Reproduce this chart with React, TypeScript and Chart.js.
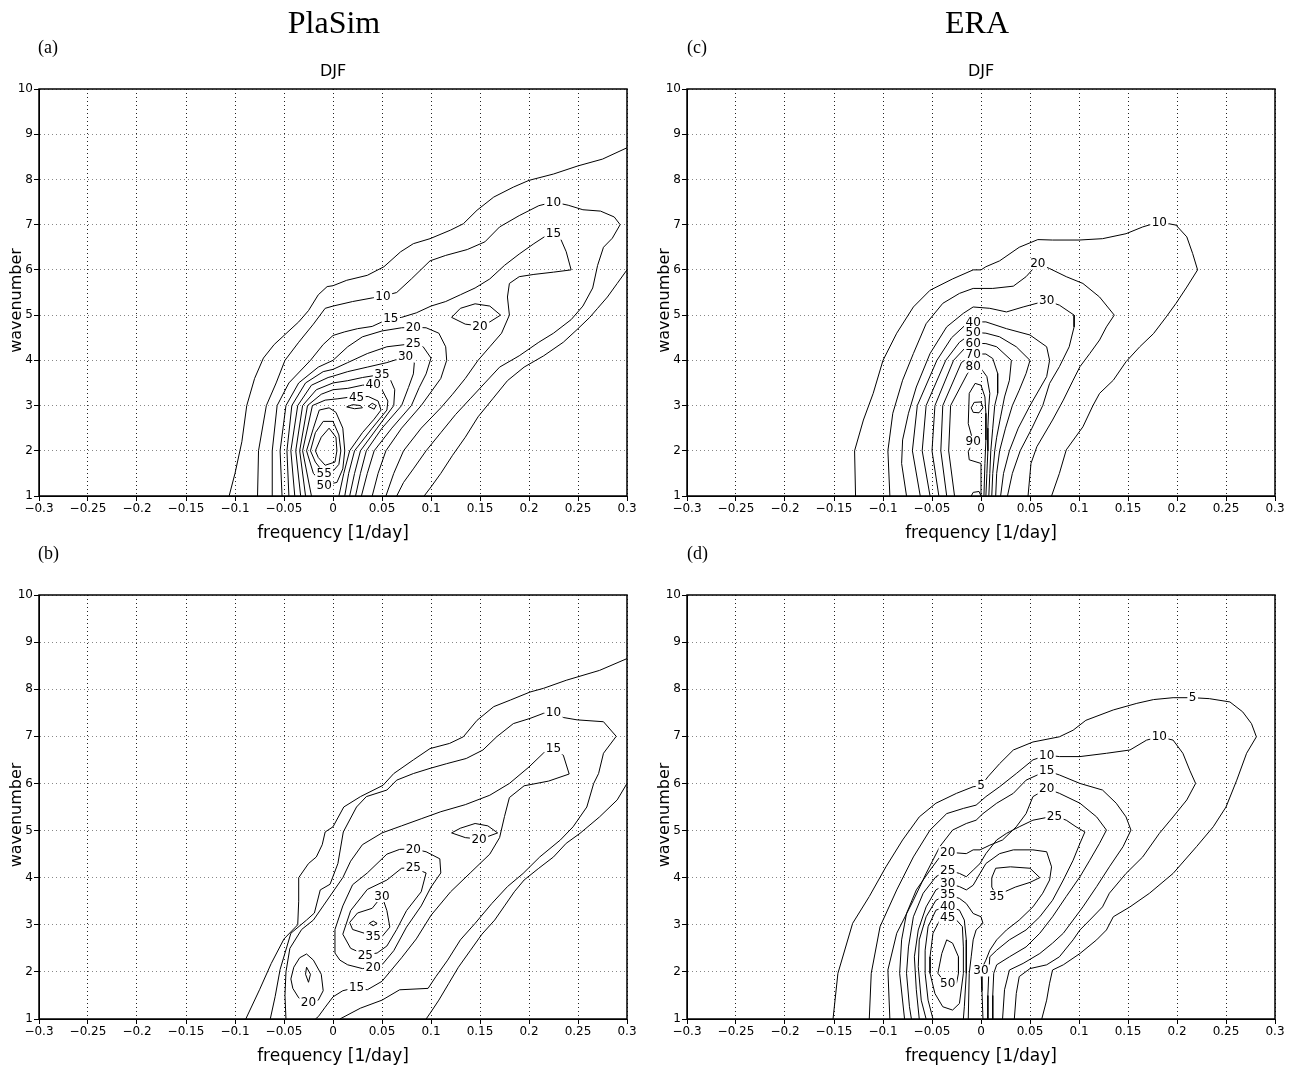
import React, { useEffect, useRef } from "react";
import { Chart, registerables } from "chart.js";
Chart.register(...registerables);

type P = [number, number];
type L = [number, number, string];

const xTicks = [-0.3, -0.25, -0.2, -0.15, -0.1, -0.05, 0, 0.05, 0.1, 0.15, 0.2, 0.25, 0.3];
const yTicks = [1, 2, 3, 4, 5, 6, 7, 8, 9, 10];

// ---------------- Panel (a) PlaSim DJF ----------------
const a05top: P[] = [[-0.106,1],[-0.1,1.5],[-0.093,2.2],[-0.088,3],[-0.08,3.6],[-0.071,4.05],[-0.06,4.35],[-0.05,4.55],[-0.035,4.85],[-0.025,5.1],[-0.015,5.45],[-0.006,5.63],[0,5.65],[0.014,5.77],[0.035,5.88],[0.052,6.07],[0.069,6.4],[0.082,6.58],[0.099,6.69],[0.12,6.88],[0.133,7.02],[0.147,7.32],[0.164,7.61],[0.184,7.83],[0.2,7.98],[0.225,8.12],[0.25,8.3],[0.275,8.45],[0.3,8.7]];
const a05right: P[] = [[0.3,6.0],[0.29,5.7],[0.28,5.4],[0.27,5.15],[0.262,4.95],[0.25,4.7],[0.235,4.4],[0.215,4.1],[0.195,3.85],[0.178,3.55],[0.163,3.15],[0.148,2.75],[0.135,2.3],[0.122,1.9],[0.11,1.5],[0.1,1.2],[0.093,1]];
const a10: P[] = [[-0.077,1],[-0.076,2],[-0.068,3],[-0.058,3.5],[-0.049,4.0],[-0.035,4.4],[-0.02,4.8],[-0.008,5.15],[0,5.2],[0.02,5.3],[0.04,5.38],[0.051,5.42],[0.065,5.5],[0.08,5.8],[0.099,6.2],[0.115,6.32],[0.137,6.45],[0.155,6.62],[0.17,6.95],[0.19,7.2],[0.21,7.42],[0.225,7.5],[0.24,7.43],[0.255,7.33],[0.273,7.3],[0.287,7.17],[0.293,7.0],[0.285,6.7],[0.276,6.5],[0.27,6.1],[0.265,5.6],[0.255,5.2],[0.243,4.9],[0.225,4.6],[0.21,4.4],[0.19,4.1],[0.17,3.85],[0.155,3.5],[0.14,3.15],[0.125,2.8],[0.11,2.4],[0.095,2.0],[0.082,1.6],[0.072,1.3],[0.065,1]];
const a15: P[] = [[-0.062,1],[-0.062,2],[-0.057,3],[-0.045,3.5],[-0.023,4.0],[-0.01,4.35],[0,4.55],[0.012,4.63],[0.025,4.7],[0.04,4.75],[0.05,4.85],[0.059,4.92],[0.07,4.95],[0.085,5.05],[0.1,5.2],[0.115,5.3],[0.13,5.45],[0.145,5.6],[0.16,5.8],[0.175,6.1],[0.19,6.35],[0.205,6.58],[0.217,6.75],[0.225,6.8],[0.232,6.7],[0.238,6.4],[0.243,6.0],[0.225,5.95],[0.205,5.9],[0.19,5.85],[0.18,5.7],[0.178,5.4],[0.18,5.0],[0.172,4.6],[0.16,4.3],[0.148,4.0],[0.135,3.6],[0.122,3.25],[0.11,2.95],[0.09,2.5],[0.072,2.0],[0.062,1.5],[0.054,1]];
const a20: P[] = [[-0.052,1],[-0.054,2],[-0.048,3],[-0.035,3.5],[-0.015,3.85],[0,4.0],[0.015,4.3],[0.03,4.52],[0.05,4.65],[0.07,4.72],[0.082,4.73],[0.095,4.72],[0.108,4.6],[0.115,4.3],[0.116,4.0],[0.11,3.6],[0.1,3.3],[0.09,3.0],[0.07,2.5],[0.054,2.0],[0.046,1.5],[0.04,1]];
const a20loop: P[] = [[0.121,4.95],[0.13,5.15],[0.145,5.25],[0.16,5.2],[0.171,5.0],[0.16,4.85],[0.15,4.76],[0.135,4.8],[0.121,4.95]];
const a25: P[] = [[-0.045,1],[-0.047,2],[-0.042,3],[-0.028,3.5],[-0.01,3.75],[0,3.8],[0.015,3.95],[0.035,4.15],[0.055,4.3],[0.082,4.37],[0.092,4.3],[0.1,4.05],[0.095,3.7],[0.088,3.4],[0.08,3.0],[0.06,2.5],[0.042,2.0],[0.035,1.5],[0.029,1]];
const a30: P[] = [[-0.039,1],[-0.043,2],[-0.036,3],[-0.022,3.45],[-0.005,3.62],[0,3.65],[0.015,3.75],[0.035,3.85],[0.055,3.95],[0.074,4.08],[0.083,3.95],[0.082,3.7],[0.077,3.4],[0.07,3.0],[0.05,2.5],[0.034,2.0],[0.028,1.5],[0.023,1]];
const a35: P[] = [[-0.033,1],[-0.038,2],[-0.031,3],[-0.017,3.35],[0,3.5],[0.015,3.55],[0.03,3.62],[0.05,3.69],[0.058,3.6],[0.063,3.35],[0.062,3.0],[0.045,2.5],[0.028,2.0],[0.022,1.5],[0.017,1]];
const a40: P[] = [[-0.028,1],[-0.034,2],[-0.026,3],[-0.012,3.25],[0,3.35],[0.015,3.38],[0.03,3.45],[0.041,3.47],[0.05,3.35],[0.056,3.1],[0.055,2.9],[0.04,2.5],[0.022,2.0],[0.016,1.5],[0.012,1]];
const a45: P[] = [[-0.022,1],[-0.031,2],[-0.021,3],[-0.008,3.12],[0.005,3.15],[0.015,3.18],[0.024,3.19],[0.036,3.2],[0.046,3.1],[0.049,2.9],[0.042,2.7],[0.03,2.4],[0.017,2.0],[0.011,1.5],[0.006,1]];
const a50: P[] = [[-0.009,1.24],[-0.02,1.5],[-0.027,2],[-0.02,2.5],[-0.014,2.9],[-0.004,2.95],[0.003,2.85],[0.01,2.5],[0.012,2.0],[0.01,1.6],[0.004,1.3],[-0.009,1.24]];
const a50s1: P[] = [[0.014,2.97],[0.02,3.02],[0.028,3.0],[0.03,2.95],[0.022,2.93],[0.014,2.97]];
const a50s2: P[] = [[0.036,2.98],[0.04,3.05],[0.044,3.0],[0.042,2.92],[0.036,2.98]];
const a55: P[] = [[-0.009,1.5],[-0.018,1.75],[-0.023,2.0],[-0.018,2.4],[-0.01,2.65],[0,2.65],[0.006,2.35],[0.008,2.0],[0.006,1.7],[0,1.55],[-0.009,1.5]];
const a60: P[] = [[-0.008,1.68],[-0.015,1.85],[-0.018,2.0],[-0.012,2.3],[-0.004,2.5],[0.003,2.3],[0.004,2.0],[0.002,1.75],[-0.008,1.68]];
const aLabels: L[] = [[0.051,5.42,"10"],[0.059,4.92,"15"],[0.082,4.73,"20"],[0.082,4.37,"25"],[0.074,4.08,"30"],[0.05,3.69,"35"],[0.041,3.47,"40"],[0.024,3.19,"45"],[-0.009,1.5,"55"],[-0.009,1.24,"50"],[0.15,4.76,"20"],[0.225,7.5,"10"],[0.225,6.8,"15"]];

// ---------------- Panel (c) ERA DJF ----------------
const c10: P[] = [[-0.128,1],[-0.129,2],[-0.12,2.68],[-0.11,3.27],[-0.1,4.0],[-0.086,4.6],[-0.069,5.18],[-0.052,5.55],[-0.029,5.8],[-0.008,6.0],[0,6.0],[0.005,6.07],[0.019,6.2],[0.039,6.5],[0.058,6.67],[0.073,6.66],[0.1,6.66],[0.124,6.69],[0.148,6.8],[0.165,6.95],[0.182,7.06],[0.199,6.99],[0.21,6.73],[0.216,6.36],[0.221,6.0],[0.21,5.62],[0.199,5.26],[0.189,4.96],[0.176,4.59],[0.162,4.3],[0.148,3.97],[0.135,3.56],[0.121,3.27],[0.114,2.99],[0.104,2.53],[0.087,2.02],[0.08,1.5],[0.072,1]];
const c20: P[] = [[-0.093,1],[-0.095,2],[-0.09,2.83],[-0.08,3.56],[-0.069,4.15],[-0.056,4.81],[-0.039,5.26],[-0.022,5.48],[-0.008,5.59],[0.012,5.59],[0.033,5.64],[0.046,5.85],[0.058,6.14],[0.07,6.03],[0.087,5.85],[0.104,5.7],[0.121,5.4],[0.136,5.0],[0.128,4.74],[0.121,4.45],[0.111,4.15],[0.101,3.86],[0.094,3.56],[0.084,3.12],[0.073,2.68],[0.057,2.09],[0.051,1.72],[0.048,1]];
const c30: P[] = [[-0.076,1],[-0.081,1.72],[-0.08,2.24],[-0.074,2.83],[-0.066,3.41],[-0.052,4.15],[-0.035,4.74],[-0.018,5.04],[-0.008,5.18],[0.009,5.15],[0.026,5.07],[0.043,5.18],[0.067,5.32],[0.08,5.22],[0.095,5.0],[0.095,4.74],[0.09,4.3],[0.08,3.86],[0.07,3.49],[0.063,3.0],[0.052,2.5],[0.04,2.0],[0.032,1.5],[0.027,1]];
const c40: P[] = [[-0.062,1],[-0.07,2],[-0.065,3],[-0.045,4],[-0.03,4.5],[-0.015,4.8],[-0.008,4.85],[0.005,4.85],[0.026,4.7],[0.05,4.56],[0.067,4.3],[0.07,4.0],[0.067,3.64],[0.058,3.3],[0.05,3.0],[0.038,2.5],[0.029,2.0],[0.023,1.5],[0.02,1]];
const c50: P[] = [[-0.052,1],[-0.06,2],[-0.056,3],[-0.036,4],[-0.022,4.4],[-0.008,4.62],[0.005,4.6],[0.019,4.52],[0.036,4.3],[0.05,4.0],[0.046,3.71],[0.039,3.34],[0.032,3.0],[0.025,2.5],[0.019,2.0],[0.016,1.5],[0.015,1]];
const c60: P[] = [[-0.043,1],[-0.05,2],[-0.047,3],[-0.028,4],[-0.016,4.28],[-0.008,4.38],[0.005,4.37],[0.016,4.3],[0.031,4.0],[0.029,3.56],[0.024,3.19],[0.02,2.75],[0.016,2.3],[0.014,2.0],[0.012,1.5],[0.011,1]];
const c70: P[] = [[-0.035,1],[-0.041,2],[-0.039,3],[-0.02,3.95],[-0.008,4.14],[0.005,4.14],[0.012,4.04],[0.017,3.71],[0.017,3.27],[0.014,3.0],[0.012,2.5],[0.01,2.0],[0.009,1.5],[0.008,1]];
const c80: P[] = [[-0.027,1],[-0.033,2],[-0.031,3],[-0.014,3.7],[-0.008,3.86],[0,3.82],[0.006,3.64],[0.009,3.27],[0.008,3.0],[0.007,2.5],[0.007,2.0],[0.006,1.5],[0.005,1]];
const c90: P[] = [[0.001,1],[0,1.72],[-0.012,1.8],[-0.013,1.98],[-0.008,2.2],[-0.013,2.6],[-0.012,3.27],[-0.006,3.49],[0,3.45],[0.004,3.19],[0.005,2.83],[0.005,2.24],[0.004,1.72],[0.003,1]];
const c100a: P[] = [[-0.01,2.95],[-0.007,3.07],[0,3.08],[0.002,2.95],[-0.002,2.84],[-0.008,2.85],[-0.01,2.95]];
const c100b: P[] = [[-0.01,1],[-0.008,1.08],[-0.002,1.1],[0,1]];
const cLabels: L[] = [[0.182,7.06,"10"],[0.058,6.14,"20"],[0.067,5.32,"30"],[-0.008,4.85,"40"],[-0.008,4.62,"50"],[-0.008,4.38,"60"],[-0.008,4.14,"70"],[-0.008,3.86,"80"],[-0.008,2.2,"90"]];

// ---------------- Panel (b) PlaSim ----------------
const b05top: P[] = [[-0.089,1],[-0.075,1.62],[-0.063,2.18],[-0.05,2.7],[-0.036,3.0],[-0.035,3.5],[-0.035,4.0],[-0.025,4.3],[-0.017,4.44],[-0.011,4.7],[-0.008,4.97],[0,5.08],[0.011,5.5],[0.028,5.72],[0.051,5.96],[0.062,6.21],[0.082,6.5],[0.099,6.74],[0.119,6.85],[0.133,6.99],[0.147,7.34],[0.164,7.63],[0.181,7.77],[0.201,7.94],[0.215,8.02],[0.238,8.19],[0.272,8.4],[0.3,8.65]];
const b05right: P[] = [[0.3,6.0],[0.29,5.65],[0.272,5.29],[0.252,4.94],[0.238,4.73],[0.225,4.44],[0.21,4.2],[0.195,3.95],[0.185,3.7],[0.175,3.4],[0.165,3.1],[0.152,2.8],[0.14,2.45],[0.128,2.1],[0.118,1.75],[0.108,1.4],[0.1,1.15],[0.095,1]];
const b10: P[] = [[-0.064,1],[-0.059,1.48],[-0.054,2.05],[-0.043,2.82],[-0.027,3.1],[-0.019,3.25],[-0.013,3.74],[-0.003,3.86],[0.005,4.3],[0.0105,4.97],[0.024,5.5],[0.034,5.72],[0.055,5.86],[0.065,6.07],[0.082,6.21],[0.099,6.32],[0.116,6.42],[0.136,6.53],[0.153,6.71],[0.167,6.99],[0.184,7.27],[0.201,7.38],[0.215,7.49],[0.225,7.5],[0.235,7.4],[0.249,7.35],[0.276,7.31],[0.289,7.0],[0.276,6.64],[0.271,6.21],[0.266,6.0],[0.259,5.5],[0.245,5.08],[0.232,4.8],[0.211,4.44],[0.194,4.09],[0.178,3.81],[0.162,3.45],[0.145,3.03],[0.13,2.68],[0.117,2.25],[0.105,1.9],[0.097,1.65],[0.068,1.62],[0.05,1.4],[0.028,1.23],[0.007,1]];
const b15: P[] = [[-0.048,1],[-0.049,1.5],[-0.048,2.0],[-0.044,2.5],[-0.032,2.9],[-0.02,3.1],[-0.01,3.4],[0.0,3.7],[0.01,4.0],[0.018,4.35],[0.03,4.7],[0.05,4.95],[0.07,5.1],[0.09,5.25],[0.11,5.4],[0.135,5.55],[0.16,5.75],[0.18,6.0],[0.2,6.35],[0.215,6.65],[0.225,6.74],[0.235,6.6],[0.241,6.2],[0.22,6.05],[0.195,5.95],[0.18,5.7],[0.175,5.3],[0.17,4.85],[0.16,4.5],[0.14,4.1],[0.12,3.7],[0.1,3.2],[0.085,2.7],[0.07,2.3],[0.05,1.8],[0.035,1.62],[0.024,1.67],[0.01,1.6],[0.0,1.47],[-0.008,1.25],[-0.015,1.05],[-0.018,1]];
const b20: P[] = [[0.002,2.4],[0.002,2.9],[0.01,3.4],[0.02,3.85],[0.035,4.1],[0.055,4.5],[0.068,4.6],[0.082,4.61],[0.095,4.55],[0.109,4.4],[0.11,4.1],[0.1,3.8],[0.09,3.4],[0.075,2.95],[0.062,2.45],[0.05,2.15],[0.041,2.1],[0.03,2.07],[0.015,2.15],[0.007,2.25],[0.002,2.4]];
const b20loop: P[] = [[0.121,4.95],[0.13,5.05],[0.145,5.15],[0.158,5.1],[0.168,4.95],[0.155,4.85],[0.149,4.82],[0.135,4.85],[0.121,4.95]];
const b20left: P[] = [[-0.043,1.85],[-0.04,2.1],[-0.034,2.3],[-0.027,2.38],[-0.02,2.25],[-0.012,1.95],[-0.01,1.6],[-0.015,1.4],[-0.025,1.33],[-0.035,1.45],[-0.041,1.65],[-0.043,1.85]];
const b25left: P[] = [[-0.027,2.1],[-0.023,1.95],[-0.025,1.78],[-0.028,1.95],[-0.027,2.1]];
const b25: P[] = [[0.01,2.8],[0.018,3.3],[0.035,3.75],[0.055,3.95],[0.07,4.2],[0.082,4.21],[0.095,4.1],[0.09,3.7],[0.075,3.3],[0.065,2.9],[0.055,2.55],[0.045,2.4],[0.033,2.36],[0.018,2.5],[0.01,2.8]];
const b30: P[] = [[0.017,3.05],[0.025,3.25],[0.04,3.35],[0.05,3.61],[0.055,3.3],[0.058,2.95],[0.05,2.75],[0.035,2.8],[0.02,2.9],[0.017,3.05]];
const b35: P[] = [[0.037,3.03],[0.041,3.08],[0.045,3.03],[0.041,2.98],[0.037,3.03]];
const bLabels: L[] = [[0.225,7.5,"10"],[0.225,6.74,"15"],[0.149,4.82,"20"],[0.082,4.61,"20"],[0.082,4.21,"25"],[0.05,3.61,"30"],[0.041,2.75,"35"],[0.033,2.36,"25"],[0.041,2.1,"20"],[0.024,1.67,"15"],[-0.025,1.35,"20"]];

// ---------------- Panel (d) ERA ----------------
const d05: P[] = [[-0.151,1],[-0.146,1.97],[-0.131,3.03],[-0.114,3.6],[-0.097,4.23],[-0.08,4.8],[-0.063,5.29],[-0.046,5.58],[-0.025,5.79],[-0.008,5.93],[0,5.95],[0.007,6.14],[0.019,6.42],[0.033,6.71],[0.053,6.88],[0.08,6.99],[0.094,7.13],[0.107,7.34],[0.135,7.56],[0.159,7.7],[0.176,7.78],[0.196,7.82],[0.216,7.82],[0.233,7.8],[0.254,7.73],[0.267,7.52],[0.276,7.27],[0.281,6.99],[0.271,6.64],[0.261,6.07],[0.25,5.5],[0.237,5.08],[0.22,4.66],[0.196,4.09],[0.172,3.67],[0.152,3.38],[0.135,3.17],[0.128,2.89],[0.118,2.68],[0.101,2.39],[0.084,2.15],[0.073,2.04],[0.07,1.76],[0.067,1.4],[0.062,1]];
const d10: P[] = [[-0.114,1],[-0.112,1.97],[-0.103,2.96],[-0.086,3.74],[-0.069,4.44],[-0.052,5.01],[-0.035,5.36],[-0.018,5.47],[-0.005,5.54],[0.005,5.72],[0.019,5.93],[0.036,6.21],[0.053,6.5],[0.067,6.6],[0.08,6.57],[0.101,6.57],[0.128,6.64],[0.152,6.71],[0.169,6.92],[0.182,6.99],[0.196,6.92],[0.206,6.64],[0.213,6.28],[0.219,6.0],[0.21,5.65],[0.196,5.29],[0.182,4.94],[0.165,4.44],[0.148,4.09],[0.131,3.67],[0.124,3.38],[0.111,3.1],[0.101,2.89],[0.094,2.68],[0.08,2.32],[0.067,2.15],[0.05,2.07],[0.039,1.9],[0.036,1.54],[0.034,1]];
const d15: P[] = [[-0.093,1],[-0.095,2.04],[-0.086,2.82],[-0.069,3.52],[-0.056,4.09],[-0.042,4.66],[-0.029,5.01],[-0.015,5.15],[-0.005,5.22],[0.002,5.36],[0.016,5.58],[0.033,5.79],[0.046,6.07],[0.067,6.27],[0.08,6.18],[0.101,6.0],[0.124,5.86],[0.138,5.58],[0.148,5.29],[0.153,5.01],[0.145,4.66],[0.131,4.23],[0.118,3.81],[0.104,3.38],[0.094,3.1],[0.084,2.82],[0.073,2.61],[0.06,2.39],[0.043,2.18],[0.029,2.04],[0.024,1.62],[0.022,1]];
const d20: P[] = [[-0.078,1],[-0.083,1.97],[-0.081,2.68],[-0.076,3.24],[-0.066,3.74],[-0.052,4.16],[-0.042,4.44],[-0.034,4.54],[-0.015,4.51],[-0.008,4.59],[-0.001,4.59],[0.009,4.69],[0.022,4.8],[0.036,5.08],[0.046,5.36],[0.053,5.72],[0.067,5.89],[0.08,5.79],[0.101,5.58],[0.118,5.29],[0.128,5.01],[0.121,4.73],[0.111,4.37],[0.101,4.02],[0.087,3.6],[0.073,3.17],[0.06,2.82],[0.046,2.53],[0.029,2.32],[0.016,2.15],[0.013,1.97],[0.012,1.5],[0.012,1]];
const d25: P[] = [[-0.071,1],[-0.073,1.26],[-0.076,1.97],[-0.074,2.53],[-0.069,3.17],[-0.059,3.67],[-0.046,4.02],[-0.034,4.16],[-0.022,4.09],[-0.015,4.02],[-0.008,4.16],[-0.001,4.3],[0.005,4.51],[0.016,4.8],[0.026,4.94],[0.039,5.08],[0.053,5.22],[0.075,5.31],[0.087,5.22],[0.097,5.08],[0.106,4.97],[0.101,4.73],[0.094,4.37],[0.084,3.95],[0.073,3.52],[0.06,3.17],[0.046,2.89],[0.029,2.68],[0.016,2.46],[0.009,2.32],[0.008,2.0],[0.007,1.5],[0.007,1]];
const d30: P[] = [[-0.063,1],[-0.066,1.62],[-0.068,2.32],[-0.064,2.89],[-0.056,3.38],[-0.046,3.74],[-0.034,3.88],[-0.022,3.81],[-0.015,3.74],[-0.008,3.84],[-0.001,4.09],[0.005,4.3],[0.019,4.51],[0.033,4.59],[0.053,4.59],[0.067,4.55],[0.072,4.23],[0.07,3.95],[0.063,3.67],[0.053,3.38],[0.039,3.1],[0.026,2.89],[0.016,2.68],[0.009,2.46],[0.005,2.25],[0.0,2.03],[0.001,1.6],[0.002,1]];
const d35left: P[] = [[-0.056,1],[-0.061,1.4],[-0.064,2.11],[-0.063,2.68],[-0.056,3.17],[-0.046,3.52],[-0.034,3.64],[-0.022,3.56],[-0.015,3.45],[-0.008,3.24],[0,3.17],[0.002,3.03],[-0.005,2.89],[-0.008,2.68],[-0.01,2.32],[-0.012,1.97],[-0.013,1]];
const d35loop: P[] = [[0.011,3.8],[0.011,4.0],[0.015,4.2],[0.03,4.23],[0.05,4.2],[0.06,4.0],[0.05,3.9],[0.035,3.8],[0.022,3.68],[0.016,3.61],[0.011,3.8]];
const d40: P[] = [[-0.049,1],[-0.054,1.4],[-0.057,1.97],[-0.057,2.46],[-0.054,2.96],[-0.046,3.31],[-0.034,3.4],[-0.022,3.31],[-0.017,3.1],[-0.015,2.68],[-0.015,1.97],[-0.017,1.26],[-0.018,1]];
const d45: P[] = [[-0.034,3.15],[-0.042,3.1],[-0.049,2.82],[-0.052,2.32],[-0.052,1.97],[-0.047,1.54],[-0.039,1.26],[-0.029,1.19],[-0.022,1.33],[-0.018,1.97],[-0.018,2.53],[-0.019,2.96],[-0.025,3.1],[-0.034,3.15]];
const d50: P[] = [[-0.035,2.68],[-0.029,2.61],[-0.023,2.32],[-0.023,1.97],[-0.025,1.76],[-0.034,1.7],[-0.044,1.97],[-0.04,2.39],[-0.035,2.68]];
const dLabels: L[] = [[0.216,7.82,"5"],[0.182,6.99,"10"],[0.067,6.6,"10"],[0.067,6.27,"15"],[0,5.95,"5"],[0.067,5.89,"20"],[0.075,5.31,"25"],[-0.034,4.54,"20"],[-0.034,4.16,"25"],[-0.034,3.88,"30"],[-0.034,3.64,"35"],[-0.034,3.4,"40"],[-0.034,3.15,"45"],[0.016,3.61,"35"],[0,2.03,"30"],[-0.034,1.76,"50"]];

interface Spec {
  left: number; top: number; width: number; height: number;
  padTop: number; padRight: number; yW: number; xH: number;
  lines: P[][]; labels: L[];
  header?: string; headerX?: number; tag: string; tagX: number; tagY: number; season?: string;
}

const fmt = (v: number) => {
  const r = Math.round(v * 100) / 100;
  if (r === 0) return "0";
  return (r < 0 ? "\u2212" : "") + String(Math.abs(r));
};

function Panel({ s }: { s: Spec }) {
  const ref = useRef<HTMLCanvasElement>(null);
  useEffect(() => {
    const cv = ref.current!;
    const overlay = {
      id: "overlay",
      afterDatasetsDraw(chart: any) {
        const { ctx, chartArea: ca, scales } = chart;
        ctx.save();
        ctx.beginPath();
        ctx.rect(ca.left, ca.top, ca.right - ca.left, ca.bottom - ca.top);
        ctx.clip();
        ctx.font = '12px "DejaVu Sans"';
        ctx.textAlign = "center";
        ctx.textBaseline = "middle";
        for (const [vx, vy, t] of s.labels) {
          const px = scales.x.getPixelForValue(vx);
          const py = scales.y.getPixelForValue(vy);
          const w = ctx.measureText(t).width;
          ctx.fillStyle = "#fff";
          ctx.fillRect(px - w / 2 - 1.5, py - 6, w + 3, 12);
          ctx.fillStyle = "#000";
          ctx.fillText(t, px, py + 0.5);
        }
        ctx.restore();
        ctx.save();
        ctx.strokeStyle = "#000";
        ctx.lineWidth = 1.5;
        ctx.strokeRect(ca.left, ca.top, ca.right - ca.left, ca.bottom - ca.top);
        ctx.fillStyle = "#000";
        ctx.textAlign = "center";
        ctx.textBaseline = "alphabetic";
        const cx = (ca.left + ca.right) / 2;
        if (s.season) {
          ctx.font = '16px "DejaVu Sans"';
          ctx.fillText(s.season, cx, ca.top - 13);
        }
        ctx.font = '17px "DejaVu Sans"';
        ctx.fillText("frequency [1/day]", cx, ca.bottom + 42);
        ctx.save();
        ctx.translate(ca.left - 22, (ca.top + ca.bottom) / 2 + 8);
        ctx.rotate(-Math.PI / 2);
        ctx.font = '16px "DejaVu Sans"';
        ctx.textBaseline = "middle";
        ctx.fillText("wavenumber", 0, 0);
        ctx.restore();
        if (s.header) {
          ctx.font = '32px "Liberation Serif"';
          ctx.fillText(s.header, s.headerX!, 33);
        }
        ctx.font = '18px "Liberation Serif"';
        ctx.textAlign = "left";
        ctx.fillText(s.tag, s.tagX, s.tagY);
        ctx.restore();
      },
    };
    const chart = new Chart(cv, {
      type: "scatter",
      data: {
        datasets: s.lines.map((l) => ({
          data: l.map(([x, y]) => ({ x, y })),
          showLine: true,
          borderColor: "#000",
          borderWidth: 1,
          pointRadius: 0,
          fill: false,
          tension: 0,
        })),
      },
      options: {
        animation: false,
        responsive: false,
        events: [],
        layout: { padding: { top: s.padTop, right: s.padRight, left: 0, bottom: 0 } },
        plugins: { legend: { display: false }, tooltip: { enabled: false } },
        scales: {
          x: {
            type: "linear",
            min: -0.3,
            max: 0.3,
            afterBuildTicks: (sc: any) => { sc.ticks = xTicks.map((v) => ({ value: v })); },
            afterFit: (sc: any) => { sc.height = s.xH; },
            ticks: { callback: (v: any) => fmt(Number(v)), color: "#000", font: { family: "DejaVu Sans", size: 12 }, maxRotation: 0, autoSkip: false, padding: 1 },
            grid: { color: "#222", lineWidth: 1, tickLength: 5, tickColor: "#000", tickWidth: 1 },
            border: { display: true, color: "#000", width: 1, dash: [1, 3] },
          },
          y: {
            type: "linear",
            min: 1,
            max: 10,
            afterBuildTicks: (sc: any) => { sc.ticks = yTicks.map((v) => ({ value: v })); },
            afterFit: (sc: any) => { sc.width = s.yW; },
            ticks: { callback: (v: any) => String(v), color: "#000", font: { family: "DejaVu Sans", size: 12 }, padding: 1 },
            grid: { color: "#888", lineWidth: 1, tickLength: 5, tickColor: "#000", tickWidth: 1 },
            border: { display: true, color: "#000", width: 1, dash: [1, 3] },
          },
        },
      } as any,
      plugins: [overlay],
    });
    return () => chart.destroy();
  }, []);
  return (
    <canvas
      ref={ref}
      width={s.width}
      height={s.height}
      style={{ position: "absolute", left: s.left, top: s.top, width: s.width, height: s.height }}
    />
  );
}

const specs: Spec[] = [
  { left: 0, top: 0, width: 648, height: 548, padTop: 89, padRight: 21, yW: 39, xH: 52,
    lines: [a05top, a05right, a10, a15, a20, a20loop, a25, a30, a35, a40, a45, a50, a50s1, a50s2, a55, a60],
    labels: aLabels, header: "PlaSim", headerX: 334, tag: "(a)", tagX: 38, tagY: 53, season: "DJF" },
  { left: 648, top: 0, width: 649, height: 548, padTop: 89, padRight: 22, yW: 39, xH: 52,
    lines: [c10, c20, c30, c40, c50, c60, c70, c80, c90, c100a, c100b],
    labels: cLabels, header: "ERA", headerX: 329, tag: "(c)", tagX: 39, tagY: 53, season: "DJF" },
  { left: 0, top: 530, width: 648, height: 537, padTop: 65, padRight: 21, yW: 39, xH: 48,
    lines: [b05top, b05right, b10, b15, b20, b20loop, b20left, b25left, b25, b30, b35],
    labels: bLabels, tag: "(b)", tagX: 38, tagY: 29 },
  { left: 648, top: 530, width: 649, height: 537, padTop: 65, padRight: 22, yW: 39, xH: 48,
    lines: [d05, d10, d15, d20, d25, d30, d35left, d35loop, d40, d45, d50],
    labels: dLabels, tag: "(d)", tagX: 39, tagY: 29 },
];

export default function App() {
  return (
    <div style={{ position: "absolute", left: 0, top: 0, width: 1297, height: 1067, background: "#fff" }}>
      {specs.map((s, i) => (
        <Panel key={i} s={s} />
      ))}
    </div>
  );
}
